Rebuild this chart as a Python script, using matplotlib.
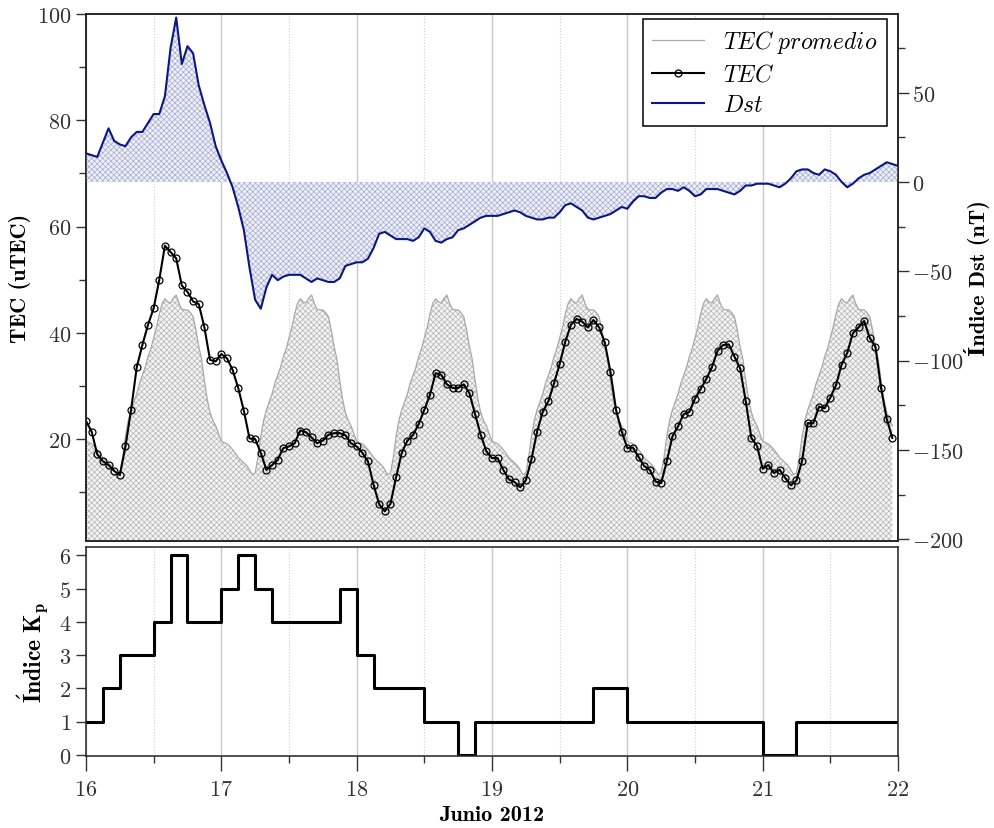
"""
TEC, TEC promedio e indice Dst (panel superior) con el indice Kp (panel inferior)
para la tormenta geomagnetica de junio de 2012 (16 al 22 de junio).
"""

import numpy as np
import matplotlib
matplotlib.use("Agg")
import matplotlib.pyplot as plt
from matplotlib.ticker import MultipleLocator


# TEC horario (uTEC), desde el 16 00 UT hasta el 21 23 UT, una fila por dia.
tec = [
    23.4, 21.4, 17.1, 15.8, 15.1, 14.0, 13.2, 18.6, 25.5, 33.5, 37.7, 41.5,
    44.6, 50.0, 56.4, 55.2, 54.0, 48.9, 47.7, 45.9, 45.4, 41.0, 34.9, 34.6,
    36.0, 35.2, 33.0, 29.6, 25.3, 20.1, 20.0, 17.4, 14.2, 15.1, 16.1, 18.3,
    18.6, 19.2, 21.6, 21.3, 20.3, 19.2, 19.7, 20.8, 21.1, 21.1, 20.7, 19.2,
    18.6, 17.4, 15.8, 11.4, 7.7, 6.4, 7.8, 12.8, 17.4, 19.7, 20.8, 22.8,
    25.5, 28.3, 32.4, 32.1, 30.3, 29.6, 29.6, 30.3, 28.6, 24.7, 20.8, 17.7,
    16.4, 16.4, 14.2, 12.4, 11.9, 10.9, 12.2, 16.2, 21.4, 25.1, 27.1, 30.5,
    34.1, 38.3, 41.5, 42.6, 42.1, 41.0, 42.4, 41.0, 38.2, 32.7, 25.5, 21.4,
    18.3, 18.4, 16.6, 14.9, 14.2, 12.0, 11.7, 15.8, 20.5, 22.4, 24.7, 25.1,
    27.6, 29.4, 31.3, 33.5, 36.6, 37.7, 37.8, 35.5, 33.3, 27.1, 20.2, 18.7,
    14.4, 15.1, 13.6, 14.2, 12.7, 11.3, 12.2, 15.9, 23.0, 23.0, 26.1, 25.8,
    27.8, 30.1, 34.0, 36.2, 39.9, 41.0, 42.2, 39.0, 37.4, 29.6, 23.8, 20.2,
]

# Perfil diario promedio del TEC cada media hora (00:00 a 23:30 UT).
# Es el mismo dia medio repetido para los seis dias del grafico.
tec_promedio_dia = [
    19.6, 19.3, 19.1, 18.6, 18.0, 17.3, 16.5, 16.0, 15.5, 15.0, 14.2, 13.3,
    13.6, 16.5, 20.5, 23.5, 25.5, 27.0, 28.5, 30.5, 32.0, 33.5, 35.5, 37.0,
    39.0, 41.0, 43.5, 45.5, 46.4, 45.8, 45.6, 46.5, 47.1, 45.5, 44.4, 44.3,
    44.3, 43.8, 43.0, 40.5, 37.4, 35.0, 31.0, 27.5, 25.0, 23.5, 22.5, 21.0,
]

# Indice Dst horario (nT), desde el 16 00 UT hasta el 22 00 UT.
dst = [
    16, 15, 14, 22, 30, 23, 21, 20, 25, 28, 28, 33,
    38, 38, 48, 75, 92, 66, 76, 72, 54, 43, 33, 20,
    12, 5, -3, -14, -27, -48, -66, -71, -59, -52, -55, -53,
    -52, -52, -52, -54, -56, -54, -55, -56, -56, -54, -47, -46,
    -45, -45, -43, -37, -29, -28, -30, -32, -32, -32, -33, -31,
    -26, -28, -33, -34, -32, -31, -27, -26, -24, -22, -20, -19,
    -19, -19, -18, -17, -16, -17, -19, -20, -21, -21, -20, -20,
    -17, -13, -12, -14, -16, -20, -21, -20, -19, -18, -16, -14,
    -15, -11, -8, -8, -9, -9, -6, -4, -4, -5, -3, -5,
    -8, -7, -4, -4, -4, -5, -6, -7, -5, -2, -2, -1,
    -1, -1, -2, -3, -1, 2, 6, 7, 7, 5, 4, 7,
    6, 4, 0, -3, -1, 2, 4, 5, 7, 9, 11, 10,
    9,
]

# Indice Kp cada 3 horas, una fila por dia (16 al 21 de junio).
kp = [
    1, 2, 3, 3, 4, 6, 4, 4,
    5, 6, 5, 4, 4, 4, 4, 5,
    3, 2, 2, 2, 1, 1, 0, 1,
    1, 1, 1, 1, 1, 1, 2, 2,
    1, 1, 1, 1, 1, 1, 1, 1,
    0, 0, 1, 1, 1, 1, 1, 1,
]


# Tiempos en dias de junio.
t_tec = 16 + np.arange(len(tec)) / 24
prom = np.tile(tec_promedio_dia, 6)[: 2 * len(tec) - 1]
t_prom = 16 + np.arange(len(prom)) / 48
t_dst = 16 + np.arange(len(dst)) / 24
t_kp = 16 + np.arange(len(kp) + 1) * 3 / 24
kp_step = kp + [kp[-1]]

plt.rcParams["font.family"] = "cmr10"
plt.rcParams["mathtext.fontset"] = "cm"
plt.rcParams["axes.formatter.use_mathtext"] = True
plt.rcParams["hatch.linewidth"] = 0.5
plt.rcParams["axes.linewidth"] = 1.1

# Negrita tipo Computer Modern; la Í sale de DejaVu Serif.
bold = dict(family=["cmb10", "DejaVu Serif"], weight="bold")

fig = plt.figure(figsize=(9.94, 8.29), dpi=100)
ax = fig.add_axes([0.0865, 0.3462, 0.8169, 0.6357])
ax_kp = fig.add_axes([0.0865, 0.0869, 0.8169, 0.2521])
ax2 = ax.twinx()

# Panel superior: TEC promedio (relleno gris), TEC y Dst.
ax.fill_between(t_prom, 0, prom, facecolor="#f4f4f4", edgecolor="#b4b4b4",
                hatch="xxxxxx", linewidth=0)
l_prom, = ax.plot(t_prom, prom, color="#a8a8a8", lw=0.9)
l_tec, = ax.plot(t_tec, tec, color="black", lw=1.5, marker="o", ms=5,
                 mfc="none", mec="black", mew=0.9)

ax2.fill_between(t_dst, 0, dst, facecolor="#eef0f8", edgecolor="#a6aad0",
                 hatch="xxxxxx", linewidth=0)
l_dst, = ax2.plot(t_dst, dst, color="#0b1782", lw=1.5)

for a in (ax, ax_kp):
    a.set_xlim(16, 22)
    a.xaxis.set_major_locator(MultipleLocator(1))
    a.xaxis.set_minor_locator(MultipleLocator(0.5))
    a.grid(True, which="major", axis="x", color="#c9c9c9", lw=1.0)
    a.grid(True, which="minor", axis="x", color="#cfcfcf", lw=0.8, ls=":")
    a.set_axisbelow(True)

ax.set_ylim(0.8, 100)
ax.yaxis.set_major_locator(MultipleLocator(20))
ax.yaxis.set_minor_locator(MultipleLocator(10))
ax.tick_params(axis="x", which="both", length=0, labelbottom=False)
ax.tick_params(axis="y", which="major", direction="out", length=7, width=1,
               labelsize=16, colors="#333333", labelcolor="#333333")
ax.tick_params(axis="y", which="minor", direction="out", length=5, width=1,
               colors="#333333")

ax2.set_ylim(-201, 94)
ax2.yaxis.set_major_locator(MultipleLocator(50))
ax2.yaxis.set_minor_locator(MultipleLocator(25))
ax2.tick_params(axis="y", which="major", direction="out", length=8, width=1,
                labelsize=16, pad=2, colors="#333333", labelcolor="#333333")
ax2.tick_params(axis="y", which="minor", direction="out", length=5, width=1,
                colors="#333333")

ax.set_ylabel("TEC (uTEC)", fontsize=16, labelpad=4, **bold)
ax2.set_ylabel("Índice Dst (nT)", fontsize=16, labelpad=0, **bold)

leg = ax2.legend([l_prom, l_tec, l_dst],
                 [r"$TEC\ promedio$", r"$TEC$", r"$Dst$"],
                 loc="upper right", bbox_to_anchor=(0.9865, 0.9905),
                 borderaxespad=0, fontsize=17, fancybox=False,
                 edgecolor="black", framealpha=1, handlelength=2.2,
                 labelspacing=0.35)
leg.get_frame().set_linewidth(1.1)

# Panel inferior: indice Kp en escalones de 3 horas.
ax_kp.step(t_kp, kp_step, where="post", color="black", lw=2.2)
ax_kp.set_ylim(-0.03, 6.25)
ax_kp.yaxis.set_major_locator(MultipleLocator(1))
ax_kp.tick_params(axis="both", which="major", direction="out", width=1,
                  labelsize=16, colors="#333333", labelcolor="#333333")
ax_kp.tick_params(axis="y", which="major", length=7)
ax_kp.tick_params(axis="x", which="major", length=11, pad=6)
ax_kp.tick_params(axis="x", which="minor", direction="out", length=5,
                  width=1, colors="#333333")
ax_kp.set_ylabel(r"$\mathbf{\acute{I}ndice\ K_p}$", fontsize=17, labelpad=6)
ax_kp.set_xlabel("Junio 2012", fontsize=16, labelpad=4, **bold)

for a in (ax, ax2, ax_kp):
    for s in a.spines.values():
        s.set_color("#222222")

fig.savefig("out.png", dpi=100)
